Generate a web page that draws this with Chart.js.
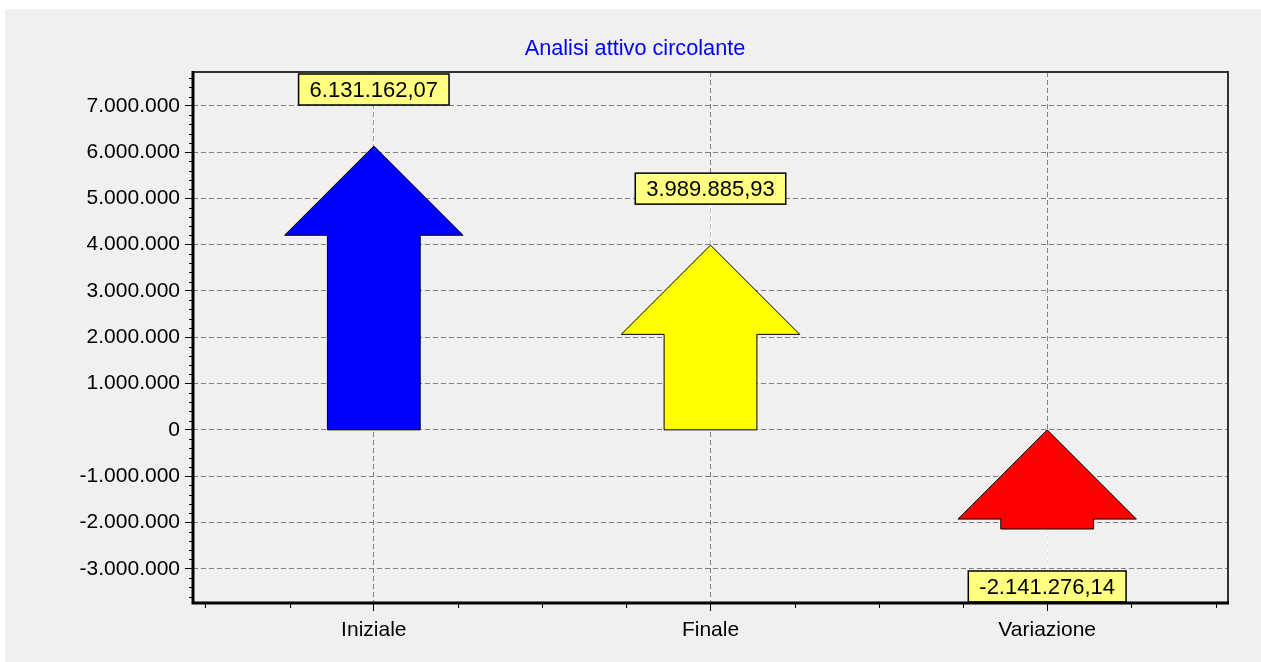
<!DOCTYPE html>
<html><head><meta charset="utf-8">
<script src="https://cdn.jsdelivr.net/npm/chart.js@4/dist/chart.umd.min.js"></script>
<style>
html,body{margin:0;padding:0;background:#fff;overflow:hidden}
#wrap{position:absolute;left:5px;top:9px;width:1256px;height:653px;background:#f0f0f0}
</style></head><body>
<div id="wrap"><canvas id="c"></canvas></div>
<script>
// ---- data ----
const categories = ['Iniziale', 'Finale', 'Variazione'];
const values = [6131162.07, 3989885.93, -2141276.14];
const arrowColors = ['#0000ff', '#ffff00', '#ff0000'];
const chartTitle = 'Analisi attivo circolante';
const yTickValues = [-3000000, -2000000, -1000000, 0, 1000000, 2000000, 3000000, 4000000, 5000000, 6000000, 7000000];
const yMin = -3740000, yMax = 7730000, yMinorStep = 200000;
const xMin = -0.537, xMax = 2.537, xMinorStep = 0.25;

const FONT = "'Liberation Sans', Arial, sans-serif";

function fmtInt(n) {
  const s = Math.abs(Math.round(n)).toString().replace(/\B(?=(\d{3})+(?!\d))/g, '.');
  return (n < 0 ? '-' : '') + s;
}
function fmtDec(n) {
  const parts = Math.abs(n).toFixed(2).split('.');
  return (n < 0 ? '-' : '') + parts[0].replace(/\B(?=(\d{3})+(?!\d))/g, '.') + ',' + parts[1];
}

const arrowPlugin = {
  id: 'arrows',
  afterDatasetsDraw(chart) {
    const ctx = chart.ctx;
    const ys = chart.scales.y;
    const meta = chart.getDatasetMeta(0);
    meta.data.forEach((el, i) => {
      const v = values[i];
      const cx = el.x, w = el.width;
      const top = ys.getPixelForValue(Math.max(0, v));
      const bot = ys.getPixelForValue(Math.min(0, v));
      const hh = w / 2, bh = w * 0.26;
      const headH = Math.min(hh, bot - top);
      const neck = top + headH;
      ctx.save();
      ctx.font = '22px ' + FONT;
      const txt = fmtDec(v);
      const tw = ctx.measureText(txt).width;
      const bw = tw + 22, bhgt = 31;
      let boxTop;
      if (v >= 0) boxTop = top - 41 - bhgt; else boxTop = bot + 42;
      // leader line
      ctx.strokeStyle = '#ffffff';
      ctx.lineWidth = 1;
      ctx.beginPath();
      if (v >= 0) { ctx.moveTo(cx + 0.5, top); ctx.lineTo(cx + 0.5, boxTop + bhgt); }
      else { ctx.moveTo(cx + 0.5, bot); ctx.lineTo(cx + 0.5, boxTop); }
      ctx.stroke();
      // arrow
      ctx.beginPath();
      ctx.moveTo(cx, top);
      ctx.lineTo(cx + hh, neck);
      ctx.lineTo(cx + bh, neck);
      ctx.lineTo(cx + bh, bot);
      ctx.lineTo(cx - bh, bot);
      ctx.lineTo(cx - bh, neck);
      ctx.lineTo(cx - hh, neck);
      ctx.closePath();
      ctx.fillStyle = arrowColors[i];
      ctx.fill();
      ctx.strokeStyle = '#000';
      ctx.lineWidth = 1;
      ctx.stroke();
      // label box
      ctx.fillStyle = '#ffff80';
      ctx.fillRect(cx - bw / 2, boxTop, bw, bhgt);
      ctx.strokeStyle = '#000';
      ctx.lineWidth = 1.5;
      ctx.strokeRect(cx - bw / 2, boxTop, bw, bhgt);
      ctx.fillStyle = '#000';
      ctx.textAlign = 'center';
      ctx.textBaseline = 'middle';
      ctx.fillText(txt, cx, boxTop + bhgt / 2 + 1);
      ctx.restore();
    });
  },
  afterDraw(chart) {
    const ctx = chart.ctx;
    const a = chart.chartArea;
    const ys = chart.scales.y, xs = chart.scales.x;
    ctx.save();
    // title
    ctx.fillStyle = '#0000ff';
    ctx.font = '21.7px ' + FONT;
    ctx.textAlign = 'center';
    ctx.textBaseline = 'alphabetic';
    ctx.fillText(chartTitle, 630, 46);
    // minor ticks
    ctx.strokeStyle = '#000';
    ctx.lineWidth = 1;
    ctx.beginPath();
    for (let v = Math.ceil(yMin / yMinorStep) * yMinorStep; v <= yMax; v += yMinorStep) {
      if (yTickValues.some(t => Math.abs(t - v) < 1)) continue;
      const y = Math.round(ys.getPixelForValue(v)) + 0.5;
      ctx.moveTo(a.left - 4, y); ctx.lineTo(a.left, y);
    }
    for (let u = Math.ceil(xMin / xMinorStep) * xMinorStep; u <= xMax; u += xMinorStep) {
      if (Math.abs(u - Math.round(u)) < 1e-6) continue;
      const x = Math.round(xs.getPixelForValue(u)) + 0.5;
      ctx.moveTo(x, a.bottom); ctx.lineTo(x, a.bottom + 5);
    }
    ctx.stroke();
    // frame
    ctx.strokeStyle = '#333';
    ctx.lineWidth = 2;
    ctx.beginPath();
    ctx.moveTo(a.left, a.top); ctx.lineTo(a.right, a.top); ctx.lineTo(a.right, a.bottom);
    ctx.stroke();
    ctx.strokeStyle = '#000';
    ctx.lineWidth = 3;
    ctx.beginPath();
    ctx.moveTo(a.left, a.top - 1); ctx.lineTo(a.left, a.bottom); ctx.lineTo(a.right + 1, a.bottom);
    ctx.stroke();
    ctx.restore();
  }
};

new Chart(document.getElementById('c'), {
  type: 'bar',
  data: {
    datasets: [{
      data: values.map((v, i) => ({ x: i, y: [Math.min(0, v), Math.max(0, v)] })),
      backgroundColor: 'rgba(0,0,0,0)',
      borderWidth: 0,
      barPercentage: 1,
      categoryPercentage: 0.53
    }]
  },
  options: {
    responsive: true,
    maintainAspectRatio: false,
    animation: false,
    layout: { padding: { left: 0, right: 33, top: 63, bottom: 0 } },
    plugins: {
      legend: { display: false },
      tooltip: { enabled: false },
      title: { display: false }
    },
    scales: {
      x: {
        type: 'linear', min: xMin, max: xMax, bounds: 'data', offset: false,
        afterFit(s) { s.height = 59; },
        afterBuildTicks(s) { s.ticks = categories.map((c, i) => ({ value: i })); },
        ticks: {
          autoSkip: false, maxRotation: 0,
          callback: (v) => categories[Math.round(v)] || '',
          font: { family: FONT, size: 21 }, color: '#000', padding: 7
        },
        grid: { offset: false, color: '#808080', lineWidth: 1, tickLength: 8, tickColor: '#000', tickWidth: 1, tickBorderDash: [] },
        border: { display: false, dash: [5, 3] }
      },
      y: {
        min: yMin, max: yMax, bounds: 'data',
        afterFit(s) { s.width = 188; },
        afterBuildTicks(s) { s.ticks = yTickValues.map(v => ({ value: v })); },
        ticks: {
          autoSkip: false,
          callback: (v) => fmtInt(v),
          font: { family: FONT, size: 21 }, color: '#000', padding: 5
        },
        grid: { color: '#808080', lineWidth: 1, tickLength: 8, tickColor: '#000', tickWidth: 1, tickBorderDash: [] },
        border: { display: false, dash: [5, 3] }
      }
    }
  },
  plugins: [arrowPlugin]
});
</script>
</body></html>
